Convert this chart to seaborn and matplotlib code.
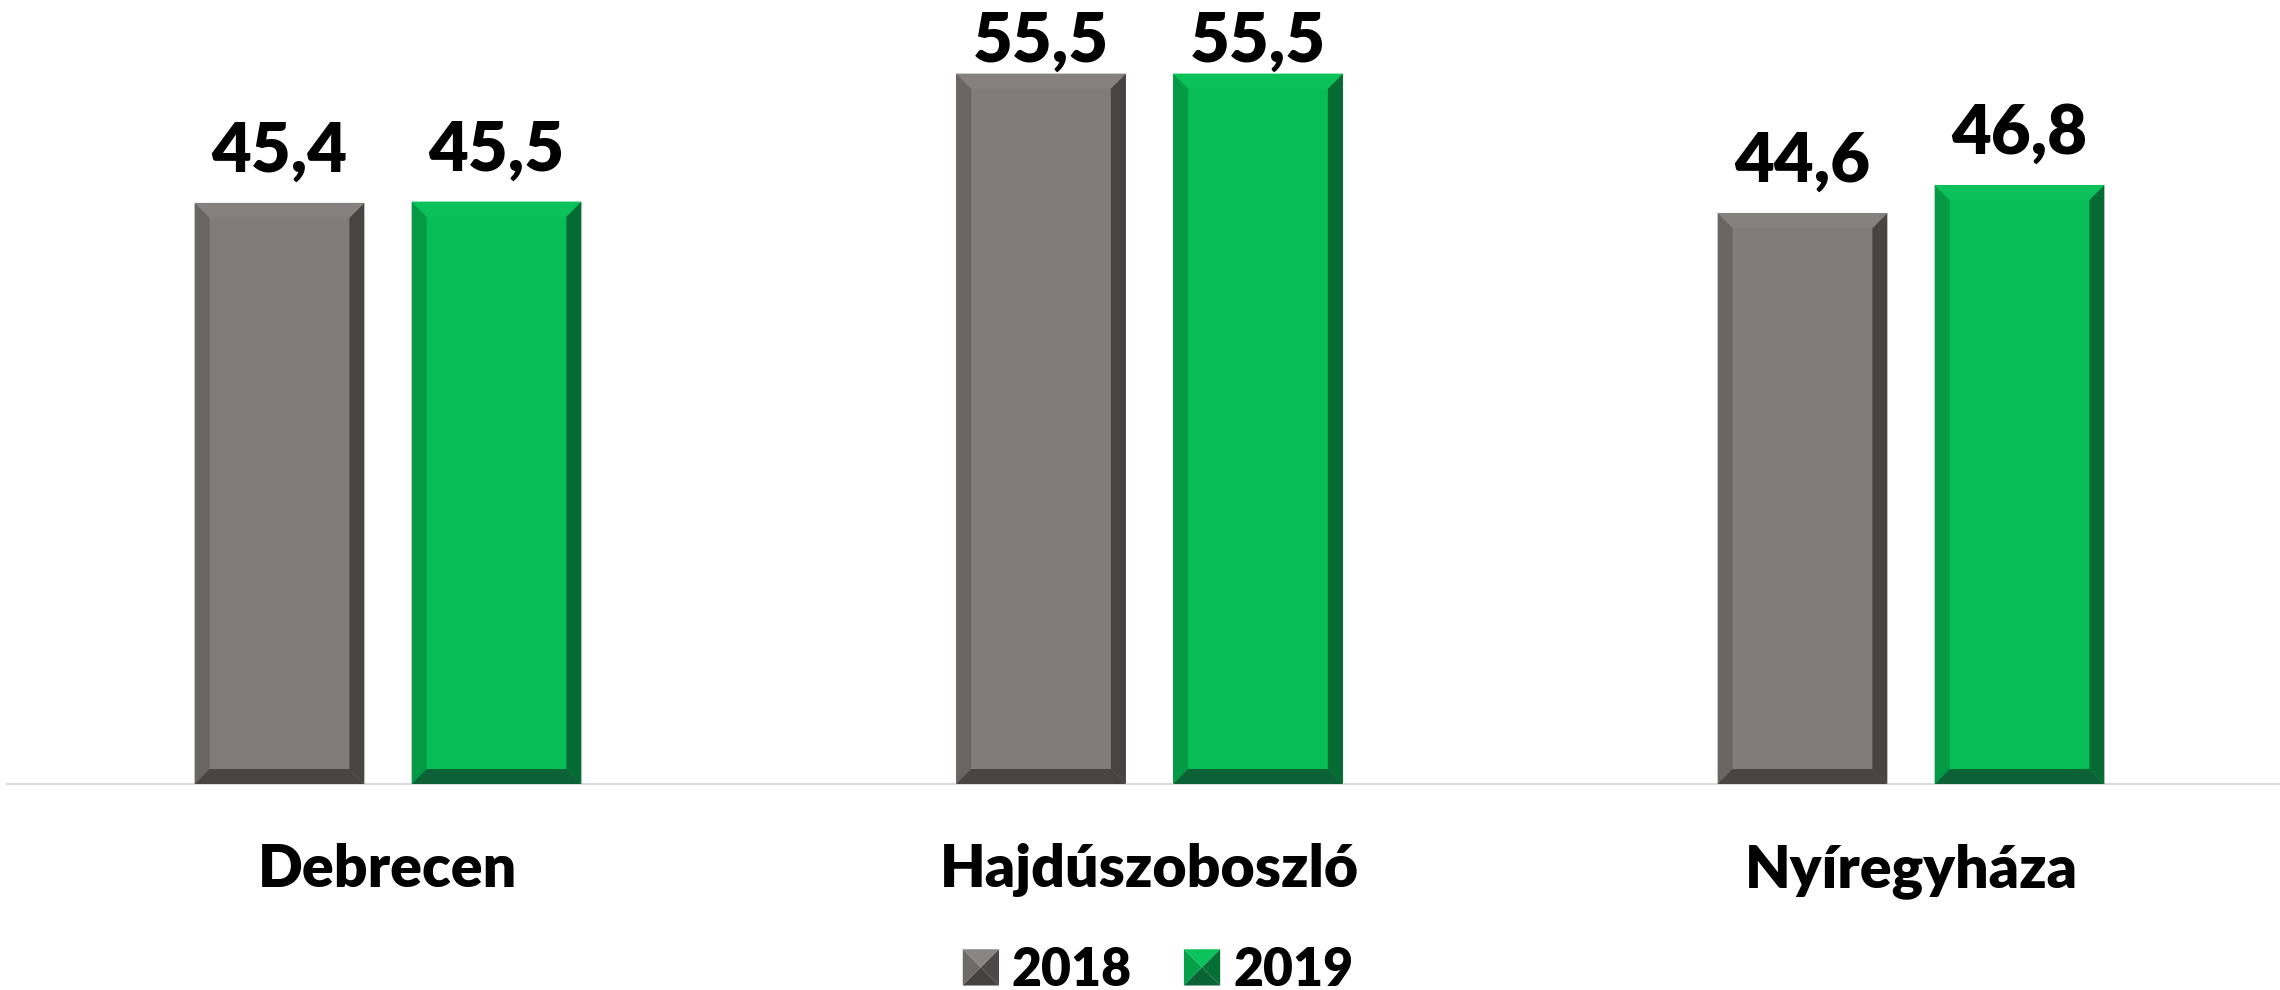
import matplotlib
matplotlib.use("Agg")
import matplotlib.pyplot as plt
import seaborn as sns
import pandas as pd
from matplotlib.patches import Polygon, Patch
from matplotlib.legend_handler import HandlerBase

# ---- data ----
cities = ["Debrecen", "Hajdúszoboszló", "Nyíregyháza"]
years = ["2018", "2019"]
values_2018 = [45.4, 55.5, 44.6]
values_2019 = [45.5, 55.5, 46.8]

face = {"2018": "#817C7A", "2019": "#07BD55"}
bevel = {
    "2018": {"left": "#6A6563", "right": "#494443", "bottom": "#494443", "top": "#86817F"},
    "2019": {"left": "#049A45", "right": "#056B33", "bottom": "#0C6236", "top": "#0AC259"},
}

df = pd.DataFrame({
    "city": cities * 2,
    "year": [years[0]] * 3 + [years[1]] * 3,
    "value": values_2018 + values_2019,
})

sns.set_theme(style="white")
plt.rcParams["font.family"] = ["Lato", "DejaVu Sans"]
WEIGHT = "heavy"

W, H = 2280, 990
fig = plt.figure(figsize=(W / 100, H / 100), dpi=100)
base_px = 784
ax = fig.add_axes([0, (H - base_px) / H, 1, base_px / H])

sns.barplot(data=df, x="city", y="value", hue="year", hue_order=years,
            order=cities, palette=face, width=0.57, gap=0.218,
            legend=False, ax=ax, saturation=1, linewidth=0)

px_per_unit_x = 761.5
xmin = -388 / px_per_unit_x
ax.set_xlim(xmin, xmin + W / px_per_unit_x)
px_per_unit_y = 12.8
ax.set_ylim(0, base_px / px_per_unit_y)

# bevels
bx = 15 / px_per_unit_x
by = 15 / px_per_unit_y
for yr, cont in zip(years, ax.containers):
    cols = bevel[yr]
    for p in cont.patches:
        x, y = p.get_x(), p.get_y()
        w, h = p.get_width(), p.get_height()
        polys = {
            "left": [(x, y), (x + bx, y + by), (x + bx, y + h - by), (x, y + h)],
            "right": [(x + w, y), (x + w, y + h), (x + w - bx, y + h - by), (x + w - bx, y + by)],
            "bottom": [(x, y), (x + w, y), (x + w - bx, y + by), (x + bx, y + by)],
            "top": [(x, y + h), (x + bx, y + h - by), (x + w - bx, y + h - by), (x + w, y + h)],
        }
        for k, pts in polys.items():
            ax.add_patch(Polygon(pts, closed=True, facecolor=cols[k], edgecolor="none", zorder=3))
    labels = [f"{v:.1f}".replace(".", ",") for v in cont.datavalues]
    anns = ax.bar_label(cont, labels=labels, padding=22.3, fontsize=49.5,
                        fontweight=WEIGHT, color="black")
    for a, v in zip(anns, cont.datavalues):
        a.set_va("baseline")
        top_px = base_px - v * px_per_unit_y  # distance of bar top from figure top
        pad_px = min(31, top_px - 62)
        a.xyann = (0, pad_px * 72 / 100)

# axes styling
for s in ["left", "right", "top"]:
    ax.spines[s].set_visible(False)
ax.spines["bottom"].set_color("#D9D9D9")
ax.spines["bottom"].set_linewidth(1.5)
ax.spines["bottom"].set_bounds(-0.5, 2.5)
ax.spines["bottom"].set_zorder(1)
ax.set_yticks([])
ax.set_xlabel("")
ax.set_ylabel("")
ax.tick_params(axis="x", length=0, pad=74, labelsize=42.5)
for t in ax.get_xticklabels():
    t.set_fontweight(WEIGHT)
    t.set_va("baseline")
    t.set_color("black")
ax.grid(False)


class PyramidHandler(HandlerBase):
    def __init__(self, cols):
        super().__init__()
        self.cols = cols

    def create_artists(self, legend, orig_handle, xdescent, ydescent, width, height, fontsize, trans):
        x0, y0 = -xdescent, -ydescent
        x1, y1 = x0 + width, y0 + height
        cx, cy = (x0 + x1) / 2, (y0 + y1) / 2
        c = self.cols
        tris = [
            ([(x0, y1), (x1, y1), (cx, cy)], c["top"]),
            ([(x0, y0), (x0, y1), (cx, cy)], c["left"]),
            ([(x1, y0), (x1, y1), (cx, cy)], c["right"]),
            ([(x0, y0), (x1, y0), (cx, cy)], c["bottom"]),
        ]
        return [Polygon(pts, closed=True, facecolor=col, edgecolor="none", transform=trans)
                for pts, col in tris]


leg_cols = {
    "2018": {"top": "#8A8583", "left": "#6F6A68", "right": "#4E4948", "bottom": "#454140"},
    "2019": {"top": "#0BC35A", "left": "#05A048", "right": "#066F35", "bottom": "#0A6335"},
}
handles = [Patch(facecolor=face[y]) for y in years]
handler_map = {handles[i]: PyramidHandler(leg_cols[y]) for i, y in enumerate(years)}
leg = fig.legend(handles, years, loc="center", bbox_to_anchor=(1158 / W, 1 - 970 / H),
                 ncol=2, frameon=False, handler_map=handler_map,
                 prop={"size": 37.3, "weight": WEIGHT}, labelcolor="black",
                 handlelength=0.7, handleheight=0.7, handletextpad=0.25,
                 columnspacing=1.0, borderpad=0, borderaxespad=0)

fig.savefig("out.png", dpi=100, facecolor="white")
